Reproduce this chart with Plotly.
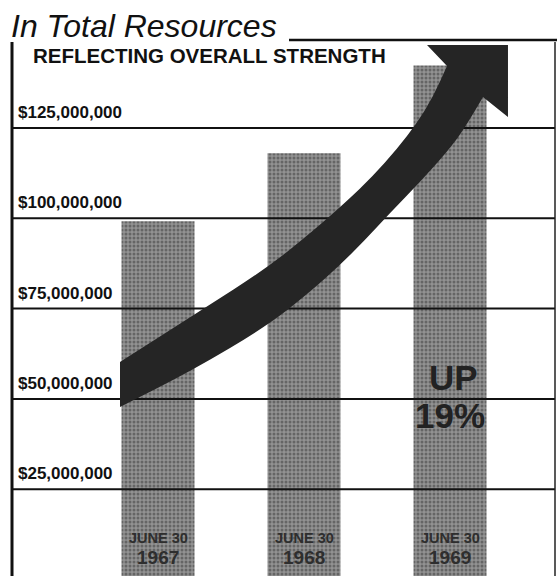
import plotly.graph_objects as go

# data
years = ["1967", "1968", "1969"]
dates = ["JUNE 30", "JUNE 30", "JUNE 30"]
resources = [99200000, 118000000, 142300000]
tick_vals = [25000000, 50000000, 75000000, 100000000, 125000000]
tick_text = ["$25,000,000", "$50,000,000", "$75,000,000", "$100,000,000", "$125,000,000"]

W, H = 557, 576
L, R, T, B = 12, 2, 40, 0
pw, ph = W - L - R, H - T - B


def px(x, y):
    # page pixel -> paper coords
    return (x - L) / pw, 1 - (y - T) / ph


def smooth(pts):
    # quadratic smoothing through midpoints
    d = ""
    for i in range(1, len(pts) - 1):
        mx = (pts[i][0] + pts[i + 1][0]) / 2
        my = (pts[i][1] + pts[i + 1][1]) / 2
        d += f" Q{pts[i][0]:.4f},{pts[i][1]:.4f} {mx:.4f},{my:.4f}"
    d += f" L{pts[-1][0]:.4f},{pts[-1][1]:.4f}"
    return d


# the big rising arrow (decoration, page pixels)
top_edge = [(120, 362), (200, 311), (267, 268), (313, 231), (347, 201), (372, 177),
            (397, 149), (417, 123), (433, 97), (447, 66)]
bot_edge = [(483, 97), (465, 128), (447, 152), (420, 182), (390, 213), (365, 240),
            (340, 265), (310, 292), (267, 326), (193, 370), (120, 407)]
head = [(427, 45), (508, 45), (508, 117)]

top_p = [px(*p) for p in top_edge]
bot_p = [px(*p) for p in bot_edge]
path = f"M{px(120, 407)[0]:.4f},{px(120, 407)[1]:.4f} L{top_p[0][0]:.4f},{top_p[0][1]:.4f}"
path += smooth(top_p)
for p in head:
    q = px(*p)
    path += f" L{q[0]:.4f},{q[1]:.4f}"
path += f" L{bot_p[0][0]:.4f},{bot_p[0][1]:.4f}"
path += smooth(bot_p) + " Z"

fig = go.Figure(go.Bar(
    x=years, y=resources, width=0.5,
    marker=dict(color="#929292", line_width=0,
                pattern=dict(shape=".", fillmode="overlay", fgcolor="#383838", size=4, solidity=0.45)),
    hoverinfo="skip",
))

shapes = []
for v in tick_vals:
    shapes.append(dict(type="line", xref="paper", yref="y", x0=0, x1=1, y0=v, y1=v,
                       line=dict(color="#111", width=2)))
shapes.append(dict(type="path", xref="paper", yref="paper", path=path,
                   fillcolor="#252525", line=dict(width=0)))
# frame
x0, y0 = px(12, 42)
shapes.append(dict(type="line", xref="paper", yref="paper", x0=x0, x1=x0, y0=y0, y1=0,
                   line=dict(color="#111", width=3)))
x1, _ = px(555, 42)
shapes.append(dict(type="line", xref="paper", yref="paper", x0=x1, x1=x1, y0=y0, y1=0,
                   line=dict(color="#222", width=1.5)))
xa, ya = px(289, 40)
shapes.append(dict(type="line", xref="paper", yref="paper", x0=xa, x1=1.01, y0=ya, y1=ya,
                   line=dict(color="#111", width=2.5)))

annotations = []
tx, ty = px(9, 26)
annotations.append(dict(text="In Total Resources", xref="paper", yref="paper", x=tx, y=ty,
                        xanchor="left", yanchor="middle", showarrow=False,
                        font=dict(family="Liberation Sans", size=32, style="italic", color="#111")))
sx, sy = px(31, 56)
annotations.append(dict(text="REFLECTING OVERALL STRENGTH", xref="paper", yref="paper", x=sx, y=sy,
                        xanchor="left", yanchor="middle", showarrow=False,
                        font=dict(family="Liberation Sans", size=20.5, weight="bold", color="#111")))
for i, (yr, dt) in enumerate(zip(years, dates)):
    annotations.append(dict(text=dt, x=i, y=11600000, showarrow=False, yanchor="middle",
                            font=dict(family="Liberation Sans", size=14.5, weight="bold", color="#2e2e2e")))
    annotations.append(dict(text=yr, x=i, y=6000000, showarrow=False, yanchor="middle",
                            font=dict(family="Liberation Sans", size=19, weight="bold", color="#2e2e2e")))
annotations.append(dict(text="UP", x=2, y=56000000, xshift=3, showarrow=False, yanchor="middle",
                        font=dict(family="Liberation Sans", size=35, weight="bold", color="#222")))
annotations.append(dict(text="19%", x=2, y=45500000, showarrow=False, yanchor="middle",
                        font=dict(family="Liberation Sans", size=35, weight="bold", color="#222")))

fig.update_layout(
    width=W, height=H,
    margin=dict(l=L, r=R, t=T, b=B, autoexpand=False),
    paper_bgcolor="white", plot_bgcolor="white",
    showlegend=False,
    shapes=shapes, annotations=annotations,
    xaxis=dict(type="category", range=[-1.0, 2.719], showticklabels=False, showgrid=False,
               zeroline=False, showline=False, ticks=""),
    yaxis=dict(range=[970000, 149360000], tickvals=tick_vals, ticktext=tick_text,
               ticklabelposition="inside top", ticklabelshift=-4, ticklabelstandoff=3,
               showgrid=False, zeroline=False, showline=False,
               ticks="", tickfont=dict(family="Liberation Sans", size=17, weight="bold", color="#111")),
)

fig.write_html("out.html", config={"displayModeBar": False},
               post_script="document.body.style.margin='0';")
